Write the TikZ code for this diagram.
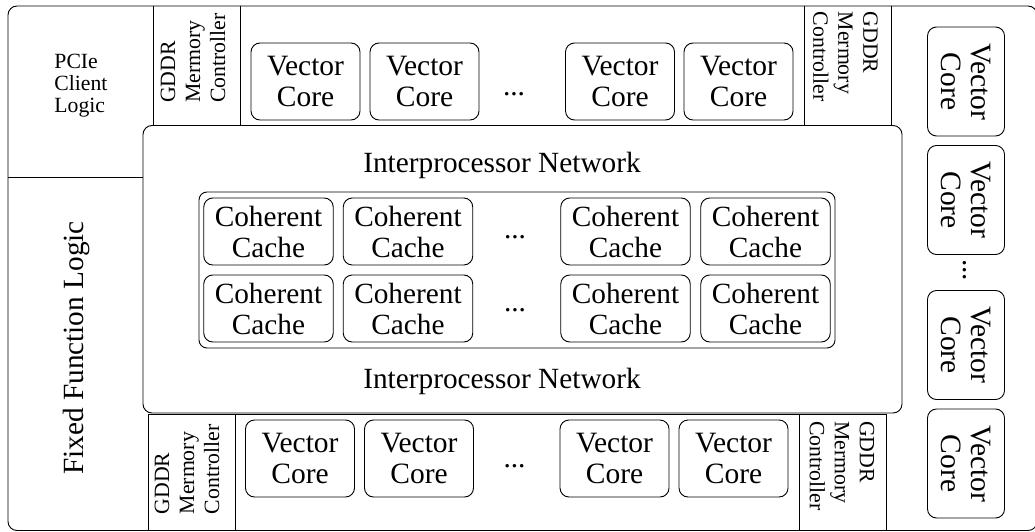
\documentclass[tikz,border=0pt]{standalone}
\usepackage{fontspec}
\setmainfont{Liberation Serif}
\begin{document}
\begin{tikzpicture}[x=1pt,y=-1pt, line width=0.9pt,
  core/.style={draw, rounded corners=9pt, minimum width=109pt, minimum height=77pt, inner sep=0pt, align=center, font=\fontsize{29.5}{30.5}\selectfont},
  vcore/.style={core, rotate=-90},
  cache/.style={draw, rounded corners=9pt, minimum width=129.5pt, minimum height=67pt, inner sep=0pt, align=center, font=\fontsize{29.3}{31}\selectfont},
  gddr/.style={inner sep=0pt, align=left, font=\fontsize{21.8}{25}\selectfont},
  big/.style={inner sep=0pt, font=\fontsize{29.3}{30.5}\selectfont},
  dots/.style={inner sep=0pt, font=\fontsize{29.3}{30.5}\selectfont},
  region/.style={rounded corners=9pt},
]
\useasboundingbox (0,0) rectangle (1035,532);
% outer frame
\draw[region] (8,6) rectangle (1037,530.5);
% PCIe / fixed function divider
\draw (8,177) -- (143,177);
% top memory-controller band
\draw (153,6) -- (153,125) -- (891,125) -- (891,6);
\draw (240,6) -- (240,125);
\draw (804,6) -- (804,125);
% bottom memory-controller band
\draw (148,530.5) -- (148,414.5) -- (886,414.5) -- (886,530.5);
\draw (235,414.5) -- (235,530.5);
\draw (799,414.5) -- (799,530.5);
% interprocessor network
\draw[region, fill=white] (143,125.5) rectangle (902,413);
\draw[rounded corners=8pt] (199,192) rectangle (835,348);

% texts of regions
\node[inner sep=0pt, align=left, anchor=west, font=\fontsize{21.7}{22}\selectfont] (pcie) at (54,86) {PCIe\\Client\\Logic};
\node[big, rotate=90] (ffl) at (76,348) {Fixed Function Logic};
\node[gddr, rotate=90] (gTL) at (193,58) {GDDR\\Mermory\\Controller};
\node[gddr, rotate=-90] (gTR) at (845.5,56.5) {GDDR\\Mermory\\Controller};
\node[gddr, rotate=90] (gBL) at (187,469.5) {GDDR\\Mermory\\Controller};
\node[gddr, rotate=-90] (gBR) at (842,466) {GDDR\\Mermory\\Controller};
\node[big, anchor=base] (ipnT) at (502,172) {Interprocessor Network};
\node[big, anchor=base] (ipnB) at (502,388) {Interprocessor Network};

% top vector cores
\node[core] (t1) at (305.5,81.5) {Vector\\Core};
\node[core] (t2) at (424.5,81.5) {Vector\\Core};
\node[dots] (tdots) at (514,94) {...};
\node[core] (t3) at (620,81.5) {Vector\\Core};
\node[core] (t4) at (738.5,81.5) {Vector\\Core};

% bottom vector cores
\node[core] (b1) at (300,458.5) {Vector\\Core};
\node[core] (b2) at (419,458.5) {Vector\\Core};
\node[dots] (bdots) at (514.5,466) {...};
\node[core] (b3) at (614.5,458.5) {Vector\\Core};
\node[core] (b4) at (733.5,458.5) {Vector\\Core};

% caches
\node[cache] (c11) at (268.5,231.5) {Coherent\\Cache};
\node[cache] (c12) at (408,231.5) {Coherent\\Cache};
\node[dots] (c1dots) at (515,237) {...};
\node[cache] (c13) at (625.5,231.5) {Coherent\\Cache};
\node[cache] (c14) at (765.5,231.5) {Coherent\\Cache};
\node[cache] (c21) at (268.5,308.5) {Coherent\\Cache};
\node[cache] (c22) at (408,308.5) {Coherent\\Cache};
\node[dots] (c2dots) at (515,310) {...};
\node[cache] (c23) at (625.5,308.5) {Coherent\\Cache};
\node[cache] (c24) at (765.5,308.5) {Coherent\\Cache};

% right column vector cores
\node[vcore] (r1) at (966,81.5) {Vector\\Core};
\node[vcore] (r2) at (966,200) {Vector\\Core};
\node[dots, rotate=-90] (rdots) at (965,270) {...};
\node[vcore] (r3) at (966,345) {Vector\\Core};
\node[vcore] (r4) at (966,463.5) {Vector\\Core};
\end{tikzpicture}
\end{document}
